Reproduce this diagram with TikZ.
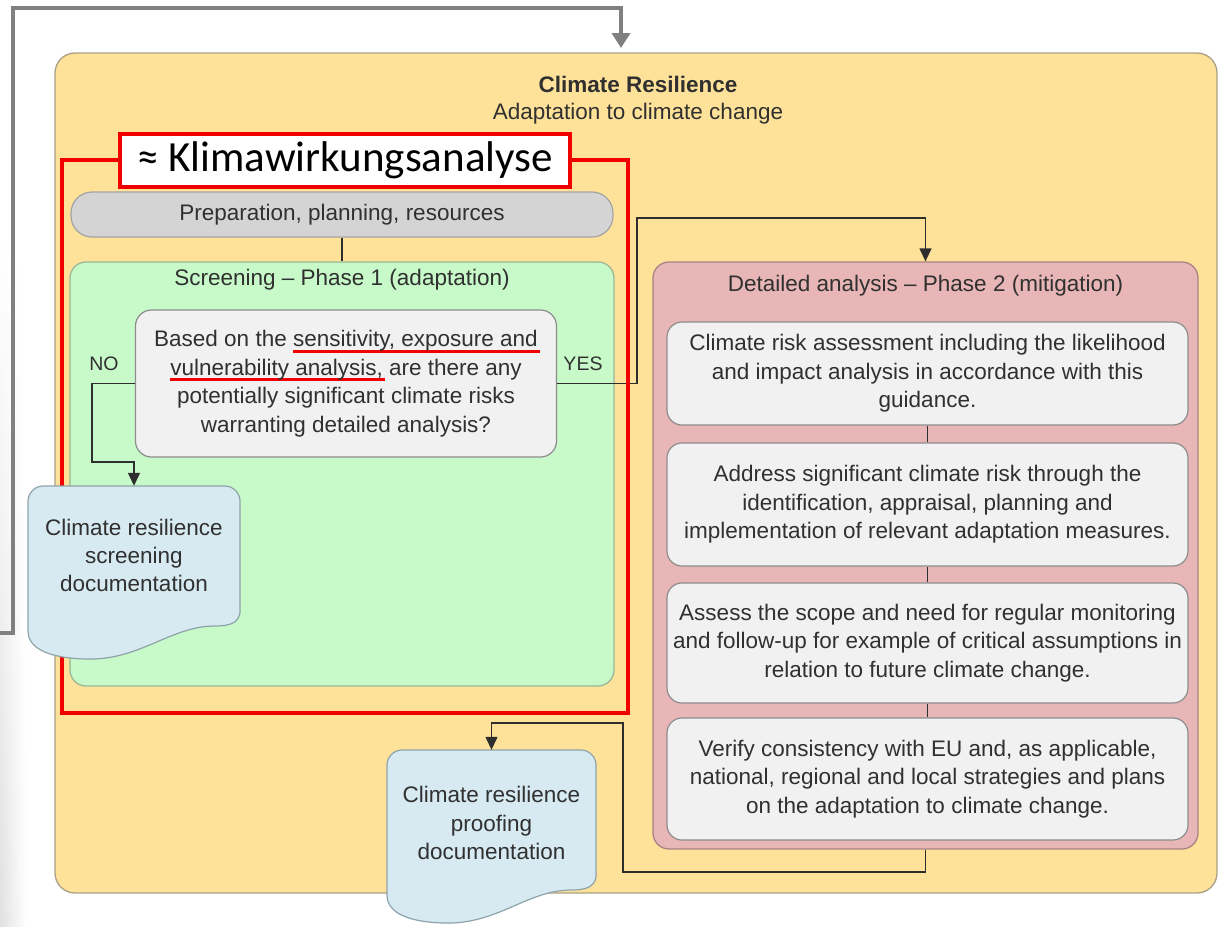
\documentclass[tikz,border=0pt]{standalone}
\usepackage{fontspec}
\setmainfont{Liberation Sans}
\newfontfamily\calib{Carlito}
\usetikzlibrary{arrows.meta,fadings}
\definecolor{yel}{HTML}{FFE299}
\definecolor{yelb}{HTML}{A9A086}
\definecolor{grn}{HTML}{C8F9C8}
\definecolor{grnb}{HTML}{98B898}
\definecolor{pnk}{HTML}{E8B6B6}
\definecolor{pnkb}{HTML}{A88484}
\definecolor{boxf}{HTML}{F1F1F1}
\definecolor{boxb}{HTML}{8C8C8C}
\definecolor{pillf}{HTML}{D4D4D4}
\definecolor{docf}{HTML}{D7EAF1}
\definecolor{docb}{HTML}{8FA3AB}
\definecolor{txt}{HTML}{303030}
\definecolor{conn}{HTML}{2E2E2E}
\definecolor{fb}{HTML}{808080}
\definecolor{ulred}{HTML}{F00000}
\tikzfading[name=fadetop, top color=transparent!100, bottom color=transparent!0]
\newsavebox\ulbox
\newcommand\redul[1]{\sbox\ulbox{#1}\rlap{\color{ulred}\rule[-6pt]{\dimexpr\wd\ulbox+2pt\relax}{2.6pt}}\usebox\ulbox}
\begin{document}
\begin{tikzpicture}[x=1pt,y=-1pt,
  txtfont/.style={font=\fontsize{22.5}{28.5}\selectfont, text=txt},
  lbl/.style={font=\fontsize{19.5}{22}\selectfont, text=txt, inner sep=0},
  panel/.style={draw=#1, line width=1.3pt, rounded corners=16pt, inner sep=0},
  innerbox/.style={txtfont, draw=boxb, fill=boxf, line width=1.2pt, rounded corners=15pt,
     minimum width=521pt, align=center, inner sep=0},
  docshape/.style={fill=docf, draw=docb, line width=1.2pt,
     insert path={(0,15) .. controls (0,7) and (7,0) .. (15,0) -- (197,0)
       .. controls (205,0) and (212,7) .. (212,15) -- (212,127)
       .. controls (210,137) and (202,140) .. (187,140)
       .. controls (142,140) and (112,175) .. (57,173)
       .. controls (22,172) and (0,163) .. (0,145) -- cycle}},
  cn/.style={draw=conn, line width=1.3pt},
  arr/.style={cn, -{Triangle[width=12pt,length=13pt]}},
]
\useasboundingbox (0,0) rectangle (1220,926);
% faint grey strip at the left edge
\shade[left color=black!12, right color=white, path fading=fadetop] (0,230) rectangle (26,926);

% outer yellow panel
\node[panel=yelb, fill=yel, rounded corners=20pt, minimum width=1162pt, minimum height=840pt] (outer) at (636,473) {};
\node[txtfont, font=\bfseries\fontsize{22.5}{28.5}\selectfont] (title) at (638,84) {Climate Resilience};
\node[txtfont] (subtitle) at (638,114) {Adaptation to climate change};

% preparation pill
\node[txtfont, draw=boxb!80, fill=pillf, line width=1.2pt, rounded corners=21pt,
      minimum width=542pt, minimum height=45pt, inner sep=0] (prep) at (342,214.5) {Preparation, planning, resources};

% green screening panel
\node[panel=grnb, fill=grn, minimum width=544pt, minimum height=424pt] (green) at (342,474) {};
\node[txtfont] (greent) at (342,280) {Screening -- Phase 1 (adaptation)};
\draw[cn] (prep.south) -- (green.north);

% question
\node[txtfont, draw=boxb, fill=boxf, line width=1.2pt, rounded corners=16pt,
      minimum width=421pt, minimum height=147pt, align=center, inner sep=0] (q) at (346,383.5)
  {Based on the \redul{sensitivity, exposure and}\\
   \redul{vulnerability analysis,} are there any\\
   potentially significant climate risks\\
   warranting detailed analysis?};
\node[lbl] (no) at (104,364) {NO};
\node[lbl] (yes) at (583,364) {YES};

% pink detailed panel
\node[panel=pnkb, fill=pnk, minimum width=545pt, minimum height=587pt] (pink) at (925.5,555.5) {};
\node[txtfont] (pinkt) at (925.5,286) {Detailed analysis -- Phase 2 (mitigation)};
\node[innerbox, minimum height=103pt] (b1) at (927.5,373.5)
  {Climate risk assessment including the likelihood\\ and impact analysis in accordance with this\\ guidance.};
\node[innerbox, minimum height=123pt] (b2) at (927.5,504.5)
  {Address significant climate risk through the\\ identification, appraisal, planning and\\ implementation of relevant adaptation measures.};
\node[innerbox, minimum height=120pt] (b3) at (927.5,643)
  {Assess the scope and need for regular monitoring\\ and follow-up for example of critical assumptions in\\ relation to future climate change.};
\node[innerbox, minimum height=122pt] (b4) at (927.5,779)
  {Verify consistency with EU and, as applicable,\\ national, regional and local strategies and plans\\ on the adaptation to climate change.};
\draw[cn] (b1.south) -- (b2.north);
\draw[cn] (b2.south) -- (b3.north);
\draw[cn] (b3.south) -- (b4.north);

% connectors
\coordinate (yesA) at (637,218);
\draw[arr] (q.east) -| (yesA) -| (pink.north);
\coordinate (noA) at (92,462);
\coordinate (botA) at (623,872);
\coordinate (botB) at (623,723);

% red frame
\draw[ulred, line width=4pt] (62,160) rectangle (628,713);

% documents
\begin{scope}[shift={(28,486)}]
  \path[docshape];
\end{scope}
\node[txtfont, align=center, inner sep=0, minimum width=212pt, minimum height=138pt,
      font=\fontsize{22.5}{28}\selectfont] (sdoc) at (134,555)
  {Climate resilience\\ screening\\ documentation};
\draw[arr] (q.west) -| (noA) -| (sdoc.north);

\begin{scope}[shift={(387,750)}, xscale=0.986]
  \path[docshape];
\end{scope}
\node[txtfont, align=center, inner sep=0, minimum width=209pt, minimum height=146pt,
      font=\fontsize{22.5}{28.5}\selectfont] (pdoc) at (491.5,823)
  {Climate resilience\\ proofing\\ documentation};
\draw[arr] (pink.south) |- (botA) -- (botB) -| (pdoc.north);

% Klimawirkungsanalyse label
\node[draw=ulred, line width=4pt, fill=white, minimum width=450pt, minimum height=53pt, inner sep=0,
      font=\calib\fontsize{43}{46}\selectfont] (klima) at (345,160) {≈ Klimawirkungsanalyse};

% feedback line
\coordinate (fbA) at (0,633);
\coordinate (fbB) at (13,8);
\coordinate (fbC) at (621,48);
\draw[fb, line width=4pt, -{Triangle[width=18pt,length=15pt]}]
  (fbA) -| (fbB) -| (fbC);
\end{tikzpicture}
\end{document}
